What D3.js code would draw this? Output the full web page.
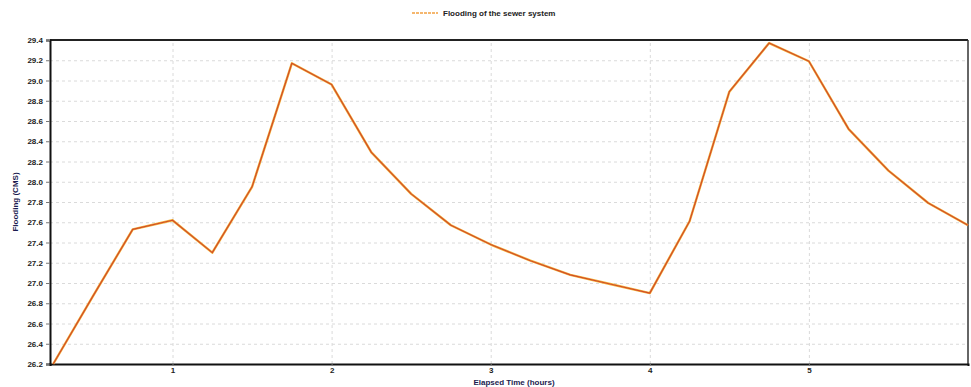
<!DOCTYPE html>
<html>
<head>
<meta charset="utf-8">
<script src="https://cdn.jsdelivr.net/npm/d3@7.9.0/dist/d3.min.js"></script>
<style>
  body { margin: 0; background: #fff; }
  svg { display: block; font-family: 'Liberation Sans', Arial, sans-serif; }
  .grid line { stroke: #dadada; stroke-dasharray: 3,3; }
  .grid .domain { display: none; }
</style>
</head>
<body>
<div id="chart"></div>
<script>
// elapsed time (hours) and flooding (CMS)
const hours = [0.25, 0.5, 0.75, 1.0, 1.25, 1.5, 1.75, 2.0, 2.25, 2.5, 2.75, 3.0,
  3.25, 3.5, 3.75, 4.0, 4.25, 4.5, 4.75, 5.0, 5.25, 5.5, 5.75, 6.0];
const flooding = [26.2, 26.87, 27.53, 27.62, 27.3, 27.95, 29.17, 28.96, 28.29, 27.88, 27.57, 27.38,
  27.22, 27.08, 26.99, 26.9, 27.61, 28.89, 29.37, 29.19, 28.52, 28.11, 27.79, 27.57];
const xTicks = [1, 2, 3, 4, 5];
const yTicks = [26.2, 26.4, 26.6, 26.8, 27.0, 27.2, 27.4, 27.6, 27.8, 28.0, 28.2, 28.4, 28.6, 28.8, 29.0, 29.2, 29.4];
const seriesName = 'Flooding of the sewer system';

const width = 971;
const height = 387;
const margin = { top: 40, right: 3, bottom: 23, left: 50 };

const data = hours.map((h, i) => ({ h, v: flooding[i] }));

const svg = d3.select('#chart')
  .append('svg')
  .attr('width', width)
  .attr('height', height);

const xScale = d3.scaleLinear()
  .domain([0.23, 6.0])
  .range([margin.left, width - margin.right]);

const yScale = d3.scaleLinear()
  .domain([26.2, 29.4])
  .range([height - margin.bottom, margin.top]);

// gridlines
svg.append('g')
  .attr('class', 'grid')
  .attr('transform', `translate(${margin.left}, 0)`)
  .call(d3.axisLeft(yScale).tickValues(yTicks).tickFormat('')
    .tickSize(-(width - margin.left - margin.right)));

svg.append('g')
  .attr('class', 'grid')
  .attr('transform', `translate(0, ${height - margin.bottom})`)
  .call(d3.axisBottom(xScale).tickValues(xTicks).tickFormat('')
    .tickSize(-(height - margin.top - margin.bottom)));

// frame top / right
svg.append('line')
  .attr('x1', margin.left).attr('x2', width - margin.right)
  .attr('y1', margin.top).attr('y2', margin.top)
  .attr('stroke', '#222').attr('stroke-width', 2);
svg.append('line')
  .attr('x1', width - margin.right).attr('x2', width - margin.right)
  .attr('y1', margin.top).attr('y2', height - margin.bottom)
  .attr('stroke', '#333').attr('stroke-width', 1.5);

// axes
const yAxis = svg.append('g')
  .attr('transform', `translate(${margin.left}, 0)`)
  .call(d3.axisLeft(yScale).tickValues(yTicks).tickFormat(d3.format('.1f')).tickSize(4).tickPadding(3));
const xAxis = svg.append('g')
  .attr('transform', `translate(0, ${height - margin.bottom})`)
  .call(d3.axisBottom(xScale).tickValues(xTicks).tickFormat(d3.format('d')).tickSize(2).tickPadding(1));

[xAxis, yAxis].forEach(ax => {
  ax.select('.domain').attr('stroke', '#111').attr('stroke-width', 2);
  ax.selectAll('.tick line').attr('stroke', '#777');
  ax.selectAll('.tick text')
    .attr('fill', '#222')
    .style('font-size', '8px')
    .style('font-weight', 'bold');
});

// axis titles
svg.append('text')
  .attr('x', 514).attr('y', 385)
  .attr('text-anchor', 'middle')
  .attr('fill', '#1c1c50')
  .style('font-size', '8px')
  .style('font-weight', 'bold')
  .text('Elapsed Time (hours)');

svg.append('text')
  .attr('transform', `translate(18, ${(margin.top + height - margin.bottom) / 2}) rotate(-90)`)
  .attr('text-anchor', 'middle')
  .attr('fill', '#1c1c50')
  .style('font-size', '8px')
  .style('font-weight', 'bold')
  .text('Flooding (CMS)');

// the series: yellow-orange underneath, red on top
const line = d3.line().x(d => xScale(d.h)).y(d => yScale(d.v));
svg.append('path')
  .datum(data)
  .attr('fill', 'none')
  .attr('stroke', '#f2b43a')
  .attr('stroke-width', 2.4)
  .attr('stroke-linejoin', 'round')
  .attr('d', line);
svg.append('path')
  .datum(data)
  .attr('fill', 'none')
  .attr('stroke', '#cc3a26')
  .attr('stroke-opacity', 0.85)
  .attr('stroke-width', 1.2)
  .attr('stroke-linejoin', 'round')
  .attr('d', line);

// legend
const legend = svg.append('g').attr('transform', 'translate(412, 13)');
legend.append('line')
  .attr('x1', 0).attr('x2', 26)
  .attr('stroke', '#f2a040').attr('stroke-width', 1.6)
  .attr('stroke-dasharray', '3,1');
legend.append('text')
  .attr('x', 31).attr('y', 3)
  .attr('fill', '#222')
  .style('font-size', '8px')
  .style('font-weight', 'bold')
  .text(seriesName);
</script>
</body>
</html>
